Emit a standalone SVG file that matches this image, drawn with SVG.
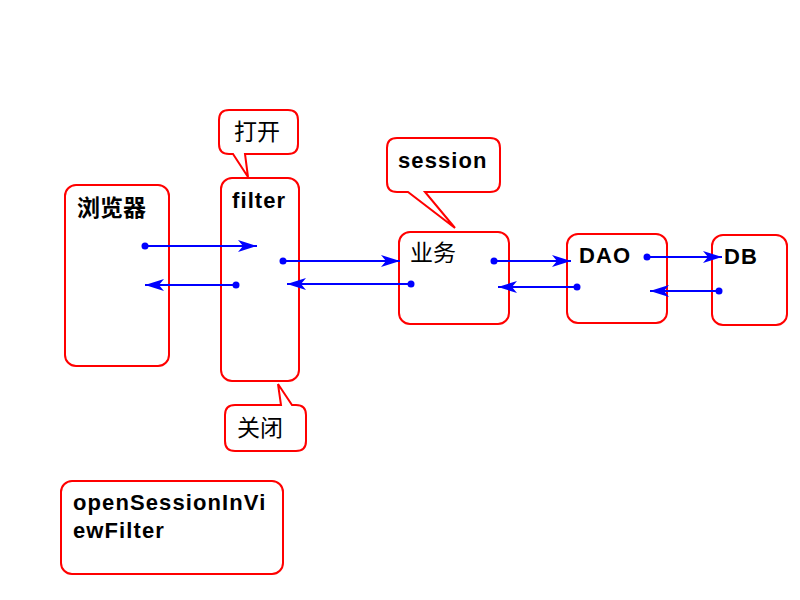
<svg xmlns="http://www.w3.org/2000/svg" width="800" height="600" viewBox="0 0 800 600">
<defs>
<style>
.box{fill:#fff;stroke:#ff0000;stroke-width:2}
.t{font-family:"Liberation Sans",Arial,sans-serif;font-weight:bold;font-size:22px;letter-spacing:1.1px;fill:#000}
.c{font-family:"Noto Sans CJK SC","Liberation Sans",sans-serif;font-size:23px;fill:#000}
.ln{stroke:#0000ff;stroke-width:2;fill:none;marker-start:url(#dot);marker-end:url(#arr)}
</style>
<marker id="arr" markerUnits="userSpaceOnUse" markerWidth="22" markerHeight="14" viewBox="0 -7 22 14" refX="19" refY="0" orient="auto">
<path d="M0,-6 L19,0 L0,6 L5,0 Z" fill="#0000ff"/>
</marker>
<marker id="dot" markerUnits="userSpaceOnUse" markerWidth="8" markerHeight="8" viewBox="-4 -4 8 8" refX="0" refY="0" orient="auto">
<circle r="3.5" fill="#0000ff"/>
</marker>
</defs>
<rect width="800" height="600" fill="#fff"/>
<g id="browser"><rect class="box" x="65" y="185" width="104" height="181" rx="11"/><text class="c" x="77" y="216" font-weight="bold">浏览器</text></g>
<g id="filter"><rect class="box" x="221" y="178" width="78" height="203" rx="11"/><text class="t" x="232" y="208">filter</text></g>
<g id="open"><path class="box" d="M229,110 H288 Q298,110 298,120 V144 Q298,154 288,154 H245 L248,177 L233,154 H229 Q219,154 219,144 V120 Q219,110 229,110 Z"/><text class="c" x="234" y="140">打开</text></g>
<g id="session"><path class="box" d="M397,138 H490 Q500,138 500,148 V182 Q500,192 490,192 H425 L455,228 L408,192 H397 Q387,192 387,182 V148 Q387,138 397,138 Z"/><text class="t" x="398" y="168">session</text></g>
<g id="business"><rect class="box" x="399" y="232" width="110" height="92" rx="11"/><text class="c" x="410" y="261">业务</text></g>
<g id="dao"><rect class="box" x="567" y="234" width="100" height="89" rx="11"/><text class="t" x="579" y="263">DAO</text></g>
<g id="db"><rect class="box" x="712" y="235" width="75" height="90" rx="11"/><text class="t" x="724" y="264">DB</text></g>
<g id="close"><path class="box" d="M235,405 H281 L278,384 L292,405 H296 Q306,405 306,415 V441 Q306,451 296,451 H235 Q225,451 225,441 V415 Q225,405 235,405 Z"/><text class="c" x="237" y="436">关闭</text></g>
<g id="osiv"><rect class="box" x="61" y="481" width="222" height="93" rx="11"/><text class="t" x="73" y="510">openSessionInVi</text><text class="t" x="73" y="538">ewFilter</text></g>
<g id="connectors">
<line class="ln" x1="145" y1="246" x2="257" y2="246"/>
<line class="ln" x1="236" y1="285" x2="145" y2="285"/>
<line class="ln" x1="283" y1="261" x2="400" y2="261"/>
<line class="ln" x1="411" y1="284" x2="287" y2="284"/>
<line class="ln" x1="494" y1="261" x2="571" y2="261"/>
<line class="ln" x1="577" y1="287" x2="498" y2="287"/>
<line class="ln" x1="647" y1="257" x2="722" y2="257"/>
<line class="ln" x1="719" y1="291" x2="650" y2="291"/>
</g>
</svg>
